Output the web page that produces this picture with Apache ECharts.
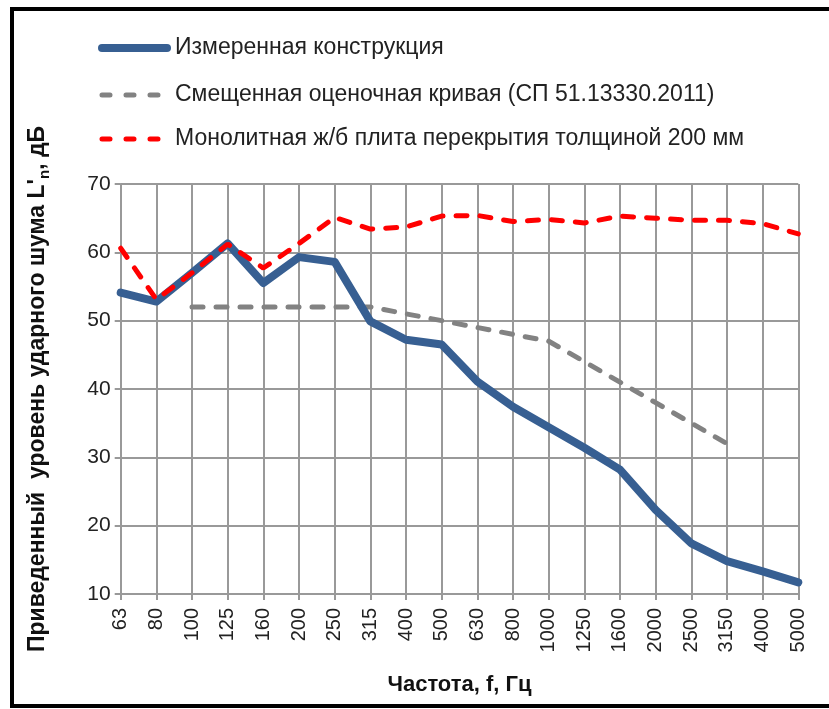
<!DOCTYPE html>
<html><head><meta charset="utf-8">
<script src="https://cdn.jsdelivr.net/npm/echarts@6/dist/echarts.min.js"></script>
<style>html,body{margin:0;padding:0;background:#fff}#c{width:829px;height:709px}</style>
</head><body><div id="c"></div>
<script>
const categories = ['63','80','100','125','160','200','250','315','400','500','630','800','1000','1250','1600','2000','2500','3150','4000','5000'];
const measured = [54.1,52.8,57.0,61.3,55.5,59.3,58.6,49.9,47.2,46.5,41.1,37.4,34.4,31.4,28.2,22.3,17.4,14.8,13.3,11.7];
const reference = [null,null,52,52,52,52,52,52,51,50,49,48,47,44,41,38,35,32,null,null];
const slab = [60.6,53.1,57.0,61.2,57.7,61.3,65.1,63.4,63.7,65.3,65.4,64.5,64.8,64.3,65.3,65.0,64.7,64.7,64.2,62.7];
const seriesNames = ['Измеренная конструкция','Смещенная оценочная кривая (СП 51.13330.2011)','Монолитная ж/б плита перекрытия толщиной 200 мм'];
const yTicks = {min:10, max:70, interval:10};

const FONT = 'Liberation Sans';
const colors = ['#375F92','#828282','#FF0000'];
const widths = [8,5,5];
const dashes = ['solid',[11,13],[11,13]];
const legendY = [48,95,139];

const graphic = [{type:'rect', shape:{x:12,y:9,width:840,height:697}, style:{fill:'none', stroke:'#000', lineWidth:4}, z:100}];
seriesNames.forEach((n,i)=>{
  graphic.push({type:'line', shape:{x1:102,y1:legendY[i],x2:167,y2:legendY[i]},
    style:{stroke:colors[i], lineWidth:widths[i], lineCap:'round', lineDash:dashes[i]==='solid'?null:[8,16]}, z:50});
  graphic.push({type:'text', x:175, y:legendY[i], style:{text:n, fill:'#222', font:'23px "'+FONT+'"', textVerticalAlign:'middle', textAlign:'left'}, z:50});
});

const chart = echarts.init(document.getElementById('c'));
chart.setOption({
  backgroundColor:'#fff',
  animation:false,
  graphic:graphic,
  grid:{left:120.7, right:30.7, top:184, bottom:115, containLabel:false},
  xAxis:{
    type:'category', data:categories, boundaryGap:false,
    axisLine:{lineStyle:{color:'#999', width:2}},
    axisTick:{show:true, length:6, lineStyle:{color:'#999', width:2}},
    splitLine:{show:true, lineStyle:{color:'#999', width:2}},
    axisLabel:{rotate:90, fontFamily:FONT, fontSize:20, color:'#222', margin:14},
    name:'Частота, f, Гц', nameLocation:'middle', nameGap:80,
    nameTextStyle:{fontFamily:FONT, fontSize:22, fontWeight:'bold', color:'#111'}
  },
  yAxis:{
    type:'value', min:yTicks.min, max:yTicks.max, interval:yTicks.interval,
    axisLine:{show:true, lineStyle:{color:'#999', width:2}},
    axisTick:{show:true, length:6, lineStyle:{color:'#999', width:2}},
    splitLine:{show:true, lineStyle:{color:'#999', width:2}},
    axisLabel:{fontFamily:FONT, fontSize:21, color:'#222', margin:10},
    name:"{a|Приведенный  уровень ударного шума L'}{s|n}{a|, дБ}", nameLocation:'middle', nameRotate:90, nameGap:68,
    nameTextStyle:{rich:{a:{fontFamily:FONT, fontSize:23, lineHeight:30, fontWeight:'bold', color:'#111'}, s:{fontFamily:FONT, fontSize:15, lineHeight:15, fontWeight:'bold', color:'#111', verticalAlign:'bottom'}}}
  },
  series:[
    {name:seriesNames[0], type:'line', data:measured, showSymbol:false, symbol:'none',
     lineStyle:{color:colors[0], width:widths[0], cap:'round', join:'round'}, itemStyle:{color:colors[0]}, z:3},
    {name:seriesNames[1], type:'line', data:reference, showSymbol:false, symbol:'none',
     lineStyle:{color:colors[1], width:widths[1], type:dashes[1], cap:'round'}, itemStyle:{color:colors[1]}, z:2},
    {name:seriesNames[2], type:'line', data:slab, showSymbol:false, symbol:'none',
     lineStyle:{color:colors[2], width:widths[2], type:dashes[2], cap:'round'}, itemStyle:{color:colors[2]}, z:4}
  ]
});
</script></body></html>
